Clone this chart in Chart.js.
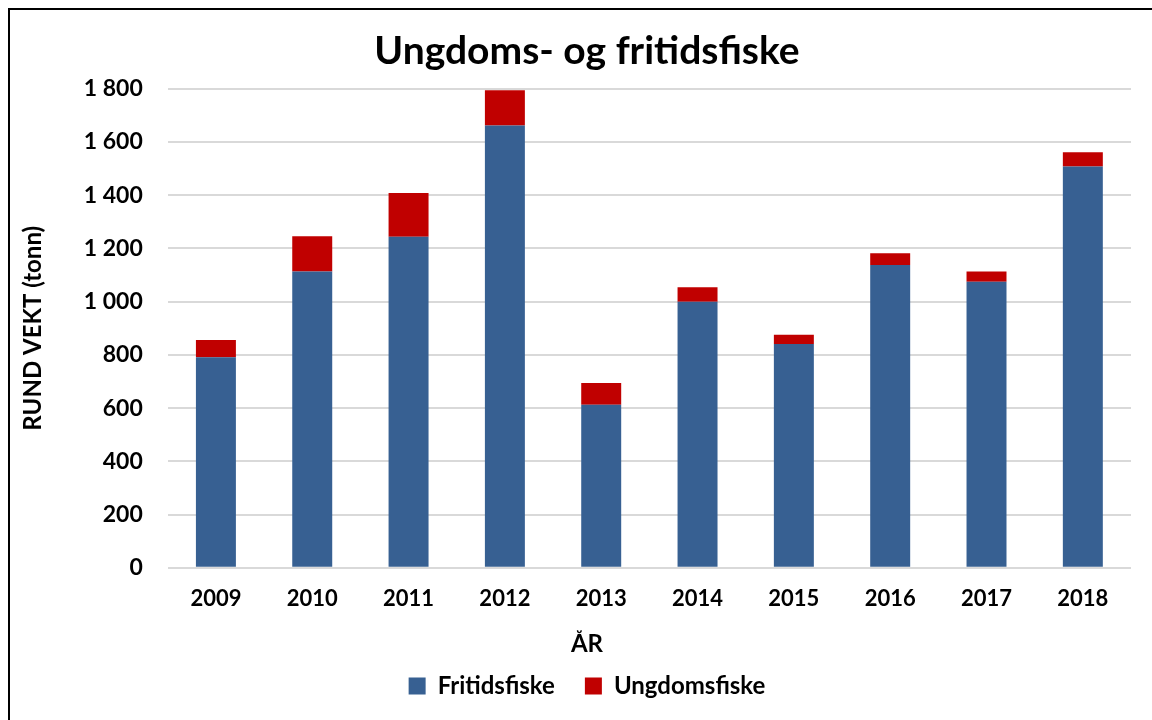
<!DOCTYPE html>
<html>
<head>
<meta charset="utf-8">
<script src="https://cdn.jsdelivr.net/npm/chart.js@4/dist/chart.umd.min.js"></script>
<style>
  html, body { margin: 0; padding: 0; background: #fff; }
  #wrap { position: relative; width: 1152px; height: 720px; overflow: hidden; }
  #frame { position: absolute; left: 8px; top: 8px; width: 2000px; height: 2000px;
           border-left: 2px solid #000; border-top: 2px solid #000; box-sizing: border-box; }
  canvas { position: absolute; left: 0; top: 0; }
</style>
</head>
<body>
<div id="wrap">
  <div id="frame"></div>
  <canvas id="c" width="1152" height="720"></canvas>
</div>
<script>
const categories = ['2009','2010','2011','2012','2013','2014','2015','2016','2017','2018'];
const fritidsfiske = [791, 1113, 1244, 1662, 613, 1000, 841, 1138, 1075, 1508];
const ungdomsfiske = [65, 133, 164, 133, 81, 54, 35, 44, 38, 54];
const seriesNames = ['Fritidsfiske', 'Ungdomsfiske'];
const titleText = 'Ungdoms- og fritidsfiske';
const yTitle = 'RUND VEKT (tonn)';
const xTitle = 'ÅR';

const FONT = 'Lato, "Open Sans", sans-serif';
function fmt(v) { return String(v).replace(/\B(?=(\d{3})+(?!\d))/g, ' '); }

new Chart(document.getElementById('c'), {
  type: 'bar',
  data: {
    labels: categories,
    datasets: [
      { label: seriesNames[0], data: fritidsfiske, backgroundColor: '#376092',
        categoryPercentage: 1, barPercentage: 0.415 },
      { label: seriesNames[1], data: ungdomsfiske, backgroundColor: '#C00000',
        categoryPercentage: 1, barPercentage: 0.415 }
    ]
  },
  options: {
    responsive: false,
    animation: false,
    layout: { padding: { top: 10, left: 43, right: 21, bottom: 12 } },
    plugins: {
      title: {
        display: true, text: titleText, color: '#000',
        font: { family: FONT, size: 39, weight: 'bold' },
        padding: { top: 18, bottom: 14 }
      },
      legend: {
        position: 'bottom',
        title: {
          display: true, text: xTitle, color: '#000',
          font: { family: FONT, size: 24, weight: 'bold' },
          padding: { top: 2, bottom: -17 }
        },
        labels: {
          color: '#000', boxWidth: 17, boxHeight: 17, padding: 30,
          font: { family: FONT, size: 24, weight: 'bold' }
        }
      },
      tooltip: { enabled: false }
    },
    scales: {
      x: {
        stacked: true,
        grid: { display: false, drawTicks: false },
        border: { display: false },
        ticks: { color: '#000', padding: 18, font: { family: FONT, size: 22, weight: 'bold' } }
      },
      y: {
        stacked: true,
        min: 0, max: 1800,
        grid: { color: '#D9D9D9', lineWidth: 2, drawTicks: false },
        border: { display: false },
        ticks: { stepSize: 200, color: '#000', padding: 25,
                 font: { family: FONT, size: 23, weight: 'bold' },
                 callback: (v) => fmt(v) },
        title: { display: true, text: yTitle, color: '#000',
                 font: { family: FONT, size: 24, weight: 'bold' }, padding: { top: -24, bottom: 11 } }
      }
    }
  }
});
</script>
</body>
</html>
